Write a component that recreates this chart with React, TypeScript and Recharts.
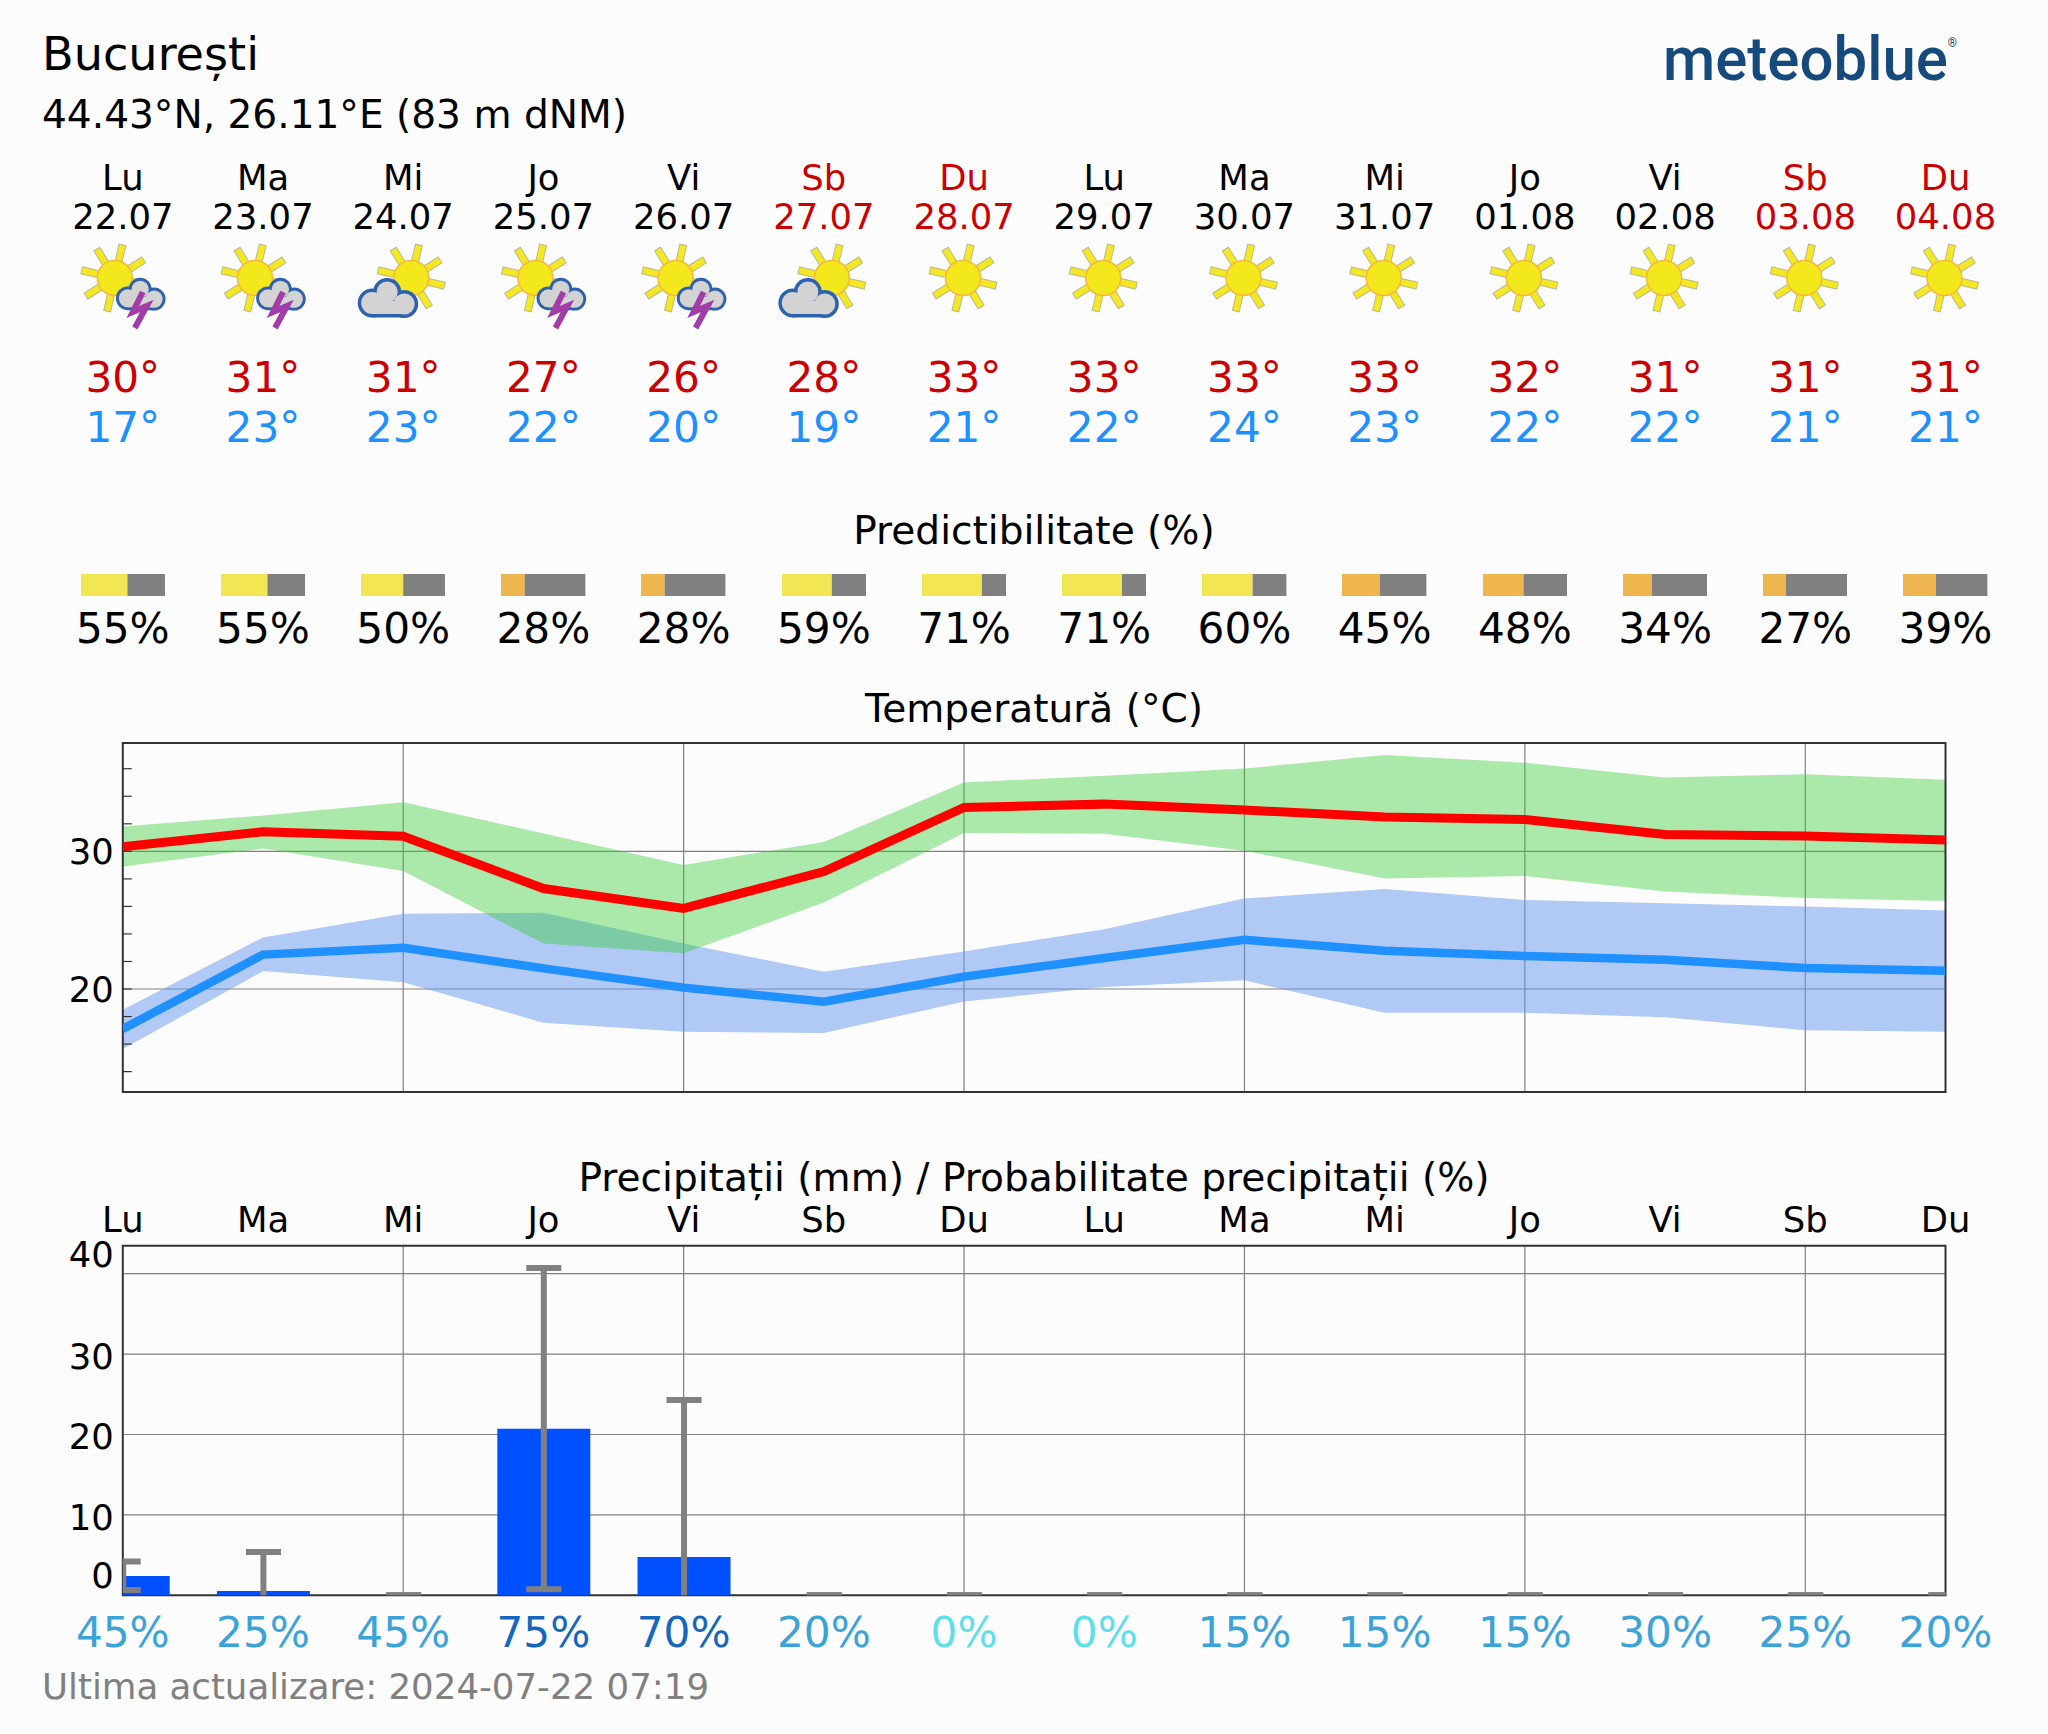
import { Area, Bar, BarChart, CartesianGrid, Cell, ComposedChart, ErrorBar, Line, ReferenceArea, XAxis, YAxis } from "recharts"

const FONT = "'DejaVu Sans', sans-serif"

const weekdays = ["Lu", "Ma", "Mi", "Jo", "Vi", "Sb", "Du", "Lu", "Ma", "Mi", "Jo", "Vi", "Sb", "Du"]
const dates = ["22.07", "23.07", "24.07", "25.07", "26.07", "27.07", "28.07", "29.07", "30.07", "31.07", "01.08", "02.08", "03.08", "04.08"]
const icons = ["storm", "storm", "cloud", "storm", "storm", "cloud", "sun", "sun", "sun", "sun", "sun", "sun", "sun", "sun"]
const tempMax = [30, 31, 31, 27, 26, 28, 33, 33, 33, 33, 32, 31, 31, 31]
const tempMin = [17, 23, 23, 22, 20, 19, 21, 22, 24, 23, 22, 22, 21, 21]
const predictability = [55, 55, 50, 28, 28, 59, 71, 71, 60, 45, 48, 34, 27, 39]

const redLine = [30.33, 31.42, 31.1, 27.3, 25.86, 28.53, 33.19, 33.43, 33.0, 32.49, 32.32, 31.23, 31.11, 30.82]
const greenHigh = [31.8, 32.6, 33.56, 31.3, 29.0, 30.68, 35.0, 35.5, 36.01, 37.0, 36.43, 35.36, 35.6, 35.2]
const greenLow = [28.9, 30.2, 28.57, 23.3, 22.6, 26.28, 31.33, 31.28, 30.05, 28.02, 28.21, 27.08, 26.62, 26.4]
const blueLine = [17.1, 22.5, 23.0, 21.5, 20.1, 19.08, 20.9, 22.25, 23.57, 22.78, 22.39, 22.13, 21.52, 21.33]
const blueHigh = [18.5, 23.75, 25.47, 25.54, 23.3, 21.26, 22.73, 24.35, 26.57, 27.27, 26.47, 26.23, 25.99, 25.7]
const blueLow = [15.64, 21.3, 20.5, 17.55, 16.9, 16.81, 19.1, 20.14, 20.63, 18.28, 18.28, 17.95, 17.0, 16.9]

const rain = [2.4, 0.55, 0.02, 20.7, 4.75, 0.02, 0.02, 0.02, 0.02, 0.02, 0.02, 0.02, 0.02, 0.02]
const rainHigh = [4.2, 5.4, 0.02, 40.7, 24.3, 0.02, 0.02, 0.02, 0.02, 0.02, 0.02, 0.02, 0.02, 0.02]
const rainLow = [0.66, -0.5, 0.02, 0.75, -0.5, 0.02, 0.02, 0.02, 0.02, 0.02, 0.02, 0.02, 0.02, 0.02]
const rainChance = [45, 25, 45, 75, 70, 20, 0, 0, 15, 15, 15, 30, 25, 20]

const tempTicks = [14, 16, 18, 20, 22, 24, 26, 28, 30, 32, 34, 36]
const tempLabels = [20, 30]
const rainTicks = [0, 10, 20, 30, 40]
const dayIndex = weekdays.map((_, i) => i)

const tempData = dayIndex.map((i) => ({
    i,
    red: redLine[i],
    blue: blueLine[i],
    green: [greenLow[i], greenHigh[i]],
    blueBand: [blueLow[i], blueHigh[i]],
}))

const rainData = dayIndex.map((i) => ({
    i,
    rain: rain[i],
    err: [rain[i] - rainLow[i], rainHigh[i] - rain[i]],
}))

const plotLeft = 122.8
const plotRight = 1945.5
const step = (plotRight - plotLeft) / 13
const dayX = (i: number) => plotLeft + i * step
const isWeekend = (i: number) => weekdays[i] === "Sb" || weekdays[i] === "Du"

const chanceColor = (v: number) => {
    if (v === 0) return "#5fdfea"
    if (v >= 70) return "#1567bd"
    return "#3ba3d8"
}

function Sun({ cx, cy }: { cx: number; cy: number }) {
    const angles = [13, 58, 103, 148, 193, 238, 283, 328]
    return (
        <g>
            {angles.map((a) => {
                const r = (a * Math.PI) / 180
                return (
                    <g key={a}>
                        <line x1={cx + 17 * Math.cos(r)} y1={cy + 17 * Math.sin(r)} x2={cx + 34.5 * Math.cos(r)} y2={cy + 34.5 * Math.sin(r)} stroke="#bcb98e" strokeWidth={8} />
                        <line x1={cx + 17 * Math.cos(r)} y1={cy + 17 * Math.sin(r)} x2={cx + 33.5 * Math.cos(r)} y2={cy + 33.5 * Math.sin(r)} stroke="#f4e824" strokeWidth={6} />
                    </g>
                )
            })}
            <circle cx={cx} cy={cy} r={17.5} fill="#f3e81c" stroke="#f6b93c" strokeWidth={1.5} />
        </g>
    )
}

function Cloud({ cx, cy, scale }: { cx: number; cy: number; scale: number }) {
    const lobes = [
        [-17, 4, 13],
        [-2, -7, 12.5],
        [15, 5, 12.5],
    ]
    return (
        <g transform={`translate(${cx} ${cy}) scale(${scale})`}>
            {lobes.map(([x, y, r]) => (
                <circle key={x} cx={x} cy={y} r={r + 1.5} fill="#2e62ae" />
            ))}
            <rect x={-17} y={2} width={32} height={16.5} fill="#2e62ae" />
            {lobes.map(([x, y, r]) => (
                <circle key={x} cx={x} cy={y} r={r - 2} fill="#d3d3d3" />
            ))}
            <rect x={-17} y={2} width={32} height={13} fill="#d3d3d3" />
        </g>
    )
}

function WeatherIcon({ kind, x }: { kind: string; x: number }) {
    if (kind === "sun") return <Sun cx={x - 1} cy={278} />
    if (kind === "cloud") {
        return (
            <g>
                <Sun cx={x + 8} cy={278} />
                <Cloud cx={x - 14} cy={299} scale={1} />
            </g>
        )
    }
    return (
        <g>
            <Sun cx={x - 8} cy={278} />
            <Cloud cx={x + 19} cy={295} scale={0.82} />
            <polyline points={`${x + 20},${292} ${x + 10},${312} ${x + 24},${306} ${x + 12},${328}`} fill="none" stroke="#a23da8" strokeWidth={6} strokeLinejoin="miter" />
        </g>
    )
}

function Header() {
    return (
        <svg width={2048} height={1734} style={{ position: "absolute", left: 0, top: 0 }} fontFamily={FONT}>
            <defs>
                <clipPath id="rainClip">
                    <rect x={plotLeft} y={55.7} width={plotRight - plotLeft} height={349.6} />
                </clipPath>
            </defs>
            <style>{`.rain-chart .recharts-errorBar { clip-path: url(#rainClip); }`}</style>

            <text x={42} y={70} fontSize={46.2} fill="#000">București</text>
            <text x={42} y={128} fontSize={39.1} fill="#000">44.43°N, 26.11°E (83 m dNM)</text>

            <text x={1663} y={80} fontSize={62} fontFamily="Roboto" fontWeight={500} fill="#174a7c" textLength={294} lengthAdjust="spacingAndGlyphs">
                meteoblue<tspan fontSize={12} dy={-33}>®</tspan>
            </text>

            {dayIndex.map((i) => (
                <g key={i} textAnchor="middle">
                    <text x={dayX(i)} y={189.5} fontSize={35.4} fill={isWeekend(i) ? "#cc0000" : "#000"}>{weekdays[i]}</text>
                    <text x={dayX(i)} y={228.5} fontSize={35.4} fill={isWeekend(i) ? "#cc0000" : "#000"}>{dates[i]}</text>
                    <WeatherIcon kind={icons[i]} x={dayX(i)} />
                    <text x={dayX(i)} y={392} fontSize={42.2} fill="#cc0000">{tempMax[i]}°</text>
                    <text x={dayX(i)} y={442} fontSize={42.2} fill="#1e90ff">{tempMin[i]}°</text>
                    <text x={dayX(i)} y={643} fontSize={42.2} fill="#000">{predictability[i]}%</text>
                </g>
            ))}

            <text x={1034} y={544} fontSize={39.1} textAnchor="middle">Predictibilitate (%)</text>
            <text x={1034} y={722} fontSize={39.1} textAnchor="middle">Temperatură (°C)</text>
            <text x={1034} y={1190.5} fontSize={39.1} textAnchor="middle">Precipitații (mm) / Probabilitate precipitații (%)</text>
            <text x={42} y={1699} fontSize={35.6} fill="#808080">Ultima actualizare: 2024-07-22 07:19</text>
        </svg>
    )
}

function PredictBar({ value, x }: { value: number; x: number }) {
    const data = [{ name: "p", sure: value, rest: 100 - value }]
    return (
        <div style={{ position: "absolute", left: x - 42.2, top: 574 }}>
            <BarChart width={84.4} height={22} data={data} layout="vertical" margin={{ top: 0, right: 0, bottom: 0, left: 0 }} barCategoryGap={0}>
                <XAxis type="number" domain={[0, 100]} hide />
                <YAxis type="category" dataKey="name" hide />
                <Bar dataKey="sure" stackId="a" isAnimationActive={false}>
                    <Cell fill={value >= 50 ? "#f3e655" : "#efb54f"} />
                </Bar>
                <Bar dataKey="rest" stackId="a" fill="#808080" isAnimationActive={false} />
            </BarChart>
        </div>
    )
}

function TempTick({ x, y, payload }: any) {
    return (
        <g>
            <line x1={x + 9} x2={x + 18} y1={y} y2={y} stroke="#333" strokeWidth={1.2} />
            {tempLabels.includes(payload.value) && (
                <text x={x} y={y + 13} textAnchor="end" fontFamily={FONT} fontSize={35.4} fill="#000">{payload.value}</text>
            )}
        </g>
    )
}

function RainTick({ x, y, payload }: any) {
    // the first and last labels are pushed inside the frame
    const shift = payload.value === 0 ? -20 : payload.value === 40 ? -20 : 2
    return (
        <text x={x} y={y + shift + 13} textAnchor="end" fontFamily={FONT} fontSize={35.4} fill="#000">{payload.value}</text>
    )
}

function DayTick({ x, y, payload }: any) {
    return (
        <text x={x} y={y - 14} textAnchor="middle" fontFamily={FONT} fontSize={35.4} fill="#000">{weekdays[payload.value]}</text>
    )
}

function ChanceTick({ x, y, payload }: any) {
    const v = rainChance[payload.value]
    return (
        <text x={x} y={y + 52} textAnchor="middle" fontFamily={FONT} fontSize={42.2} fill={chanceColor(v)}>{v}%</text>
    )
}

function TempChart() {
    const low = 12.52
    const high = 37.87
    return (
        <div style={{ position: "absolute", left: 0, top: 700 }}>
            <ComposedChart width={2048} height={420} data={tempData} margin={{ top: 43, right: 102.5, bottom: 28, left: 0 }}>
                <XAxis dataKey="i" type="number" domain={[0, 13]} ticks={dayIndex} hide allowDataOverflow />
                <YAxis type="number" domain={[low, high]} ticks={tempTicks} interval={0} width={122.8} tickSize={0} tickMargin={9} axisLine={false} tickLine={false} tick={TempTick} allowDataOverflow />
                <Area dataKey="blueBand" stroke="none" fill="#6495ed" fillOpacity={0.5} isAnimationActive={false} dot={false} activeDot={false} />
                <Area dataKey="green" stroke="none" fill="#32cd32" fillOpacity={0.4} isAnimationActive={false} dot={false} activeDot={false} />
                <CartesianGrid stroke="#808080" strokeWidth={1.2} horizontalValues={tempLabels} verticalValues={[2, 4, 6, 8, 10, 12]} />
                <Line dataKey="blue" stroke="#1e90ff" strokeWidth={8.5} strokeLinejoin="miter" dot={false} activeDot={false} isAnimationActive={false} />
                <Line dataKey="red" stroke="#ff0000" strokeWidth={9} strokeLinejoin="miter" dot={false} activeDot={false} isAnimationActive={false} />
                <ReferenceArea x1={0} x2={13} y1={low} y2={high} fill="none" stroke="#333" strokeWidth={2} />
            </ComposedChart>
        </div>
    )
}

function RainChart() {
    const high = 43.48
    return (
        <div className="rain-chart" style={{ position: "absolute", left: 0, top: 1190 }}>
            <ComposedChart width={2048} height={500} data={rainData} margin={{ top: 0, right: 102.5, bottom: 0, left: 0 }}>
                <CartesianGrid stroke="#808080" strokeWidth={1.2} horizontalValues={[10, 20, 30, 40]} verticalValues={[2, 4, 6, 8, 10, 12]} />
                <XAxis xAxisId="days" orientation="top" dataKey="i" type="number" domain={[0, 13]} ticks={dayIndex} interval={0} height={55.7} tickSize={0} tickMargin={0} axisLine={false} tickLine={false} tick={DayTick} allowDataOverflow />
                <XAxis dataKey="i" type="number" domain={[0, 13]} ticks={dayIndex} interval={0} height={94.7} tickSize={0} tickMargin={0} axisLine={false} tickLine={false} tick={ChanceTick} allowDataOverflow />
                <YAxis type="number" domain={[0, high]} ticks={rainTicks} interval={0} width={122.8} tickSize={0} tickMargin={9} axisLine={false} tickLine={false} tick={RainTick} allowDataOverflow />
                <Bar dataKey="rain" fill="#0050ff" barSize={93} isAnimationActive={false}>
                    <ErrorBar dataKey="err" direction="y" width={17.5} strokeWidth={6} stroke="#808080" isAnimationActive={false} />
                </Bar>
                <ReferenceArea x1={0} x2={13} y1={0} y2={high} fill="none" stroke="#333" strokeWidth={2} />
            </ComposedChart>
        </div>
    )
}

export default function App() {
    return (
        <div style={{ position: "absolute", left: 0, top: 0, width: 2048, height: 1734, background: "#fcfcfc", overflow: "hidden" }}>
            <Header />
            {dayIndex.map((i) => (
                <PredictBar key={i} value={predictability[i]} x={dayX(i)} />
            ))}
            <TempChart />
            <RainChart />
        </div>
    )
}
